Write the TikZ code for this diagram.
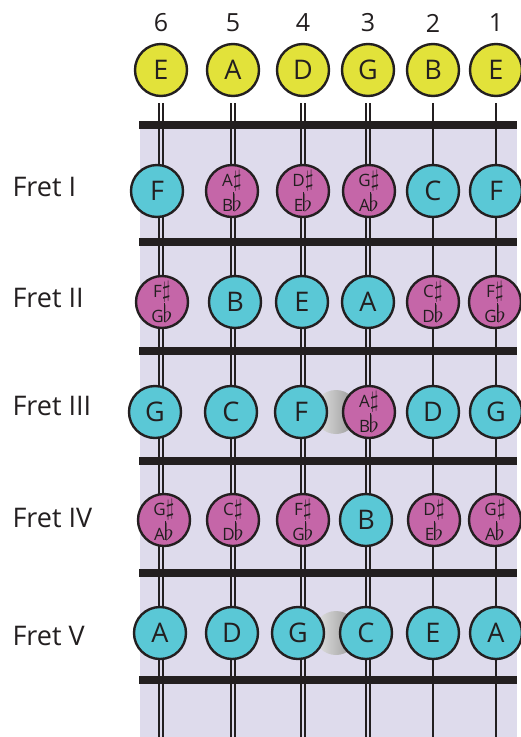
\documentclass[tikz,border=0pt]{standalone}
\usepackage{fontspec}
\setsansfont{Open Sans}
\usetikzlibrary{positioning,calc}
\definecolor{fbyellow}{HTML}{E2E23A}
\definecolor{fbcyan}{HTML}{5AC8D6}
\definecolor{fbpink}{HTML}{C566A8}
\definecolor{fblav}{HTML}{DEDBEC}
\definecolor{fbink}{HTML}{231F20}
\newcommand{\accpair}[2]{#1\scalebox{1.35}{$\sharp$}\\%
  #2\rlap{\rule[1pt]{0.6pt}{19pt}}\scalebox{1.35}{$\flat$}}

\begin{document}
\begin{tikzpicture}[x=1pt,y=-1pt,font=\sffamily,
  note/.style={circle,draw=fbink,line width=2.4pt,minimum size=52pt,inner sep=0pt,text=fbink,font=\sffamily\fontsize{27}{27}\selectfont},
  opennote/.style={note,fill=fbyellow},
  natnote/.style={note,fill=fbcyan},
  accnote/.style={note,fill=fbpink,align=center,font=\sffamily\fontsize{17}{19}\selectfont},
  fretlbl/.style={anchor=west,text=fbink,font=\sffamily\fontsize{27}{27}\selectfont},
  strnum/.style={text=fbink,font=\sffamily\fontsize{25}{25}\selectfont},
  wound/.style={fbink,line width=1.3pt},
  plain/.style={fbink,line width=2pt}]
  \useasboundingbox (0,0) rectangle (520,737);
  % board
  \fill[fblav] (140,129) rectangle (517,737);
  \coordinate (bot) at (0,737);
  % open strings
  \foreach \x/\n/\nm in {161/6/E,233/5/A,303/4/D,368/3/G,433/2/B,496/1/E}{
    \node[opennote] (open\n) at (\x,70) {\nm};
    \node[strnum] (num\n) at (\x,23) {\n};
  }
  \foreach \n in {6,5,4,3}{
    \draw[wound] ([xshift=-2.1pt,yshift=-6pt]open\n.south) -- ([xshift=-2.1pt]open\n.south |- bot);
    \draw[wound] ([xshift=2.1pt,yshift=-6pt]open\n.south) -- ([xshift=2.1pt]open\n.south |- bot);
  }
  \foreach \n in {2,1}
    \draw[plain] ([yshift=-6pt]open\n.south) -- (open\n.south |- bot);
  % nut and frets
  \foreach \y in {125,242,351,461,573,680}
    \fill[fbink] (139,\y-4) rectangle (517,\y+4);
  % shadows between close notes
  \shade[left color=gray!20,right color=gray!85] (336,412) circle (22);
  \shade[left color=gray!20,right color=gray!85] (336,633) circle (22);
  % fret I
  \foreach \x/\k/\nm [count=\s] in {157/natnote/F,232/accnote/{\accpair{A}{B}},303/accnote/{\accpair{D}{E}},369/accnote/{\accpair{G}{A}},433/natnote/C,496/natnote/F}
    \node[\k] (f1s\s) at (\x,191) {\nm};
  % fret II
  \foreach \x/\k/\nm [count=\s] in {162/accnote/{\accpair{F}{G}},235/natnote/B,302/natnote/E,368/natnote/A,433/accnote/{\accpair{C}{D}},495/accnote/{\accpair{F}{G}}}
    \node[\k] (f2s\s) at (\x,302) {\nm};
  % fret III
  \foreach \x/\k/\nm [count=\s] in {155/natnote/G,231/natnote/C,301/natnote/F,369/accnote/{\accpair{A}{B}},433/natnote/D,496/natnote/G}
    \node[\k] (f3s\s) at (\x,412) {\nm};
  % fret IV
  \foreach \x/\k/\nm [count=\s] in {164/accnote/{\accpair{G}{A}},233/accnote/{\accpair{C}{D}},303/accnote/{\accpair{F}{G}},366/natnote/B,434/accnote/{\accpair{D}{E}},495/accnote/{\accpair{G}{A}}}
    \node[\k] (f4s\s) at (\x,520) {\nm};
  % fret V
  \foreach \x/\k/\nm [count=\s] in {160/natnote/A,232/natnote/D,298/natnote/G,366/natnote/C,433/natnote/E,496/natnote/A}
    \node[\k] (f5s\s) at (\x,633) {\nm};
  % fret names
  \foreach \y/\r [count=\i] in {187/I,298/II,406/III,518/IV,636/V}
    \node[fretlbl] (lbl\i) at (9,\y) {Fret \r};
\end{tikzpicture}
\end{document}
